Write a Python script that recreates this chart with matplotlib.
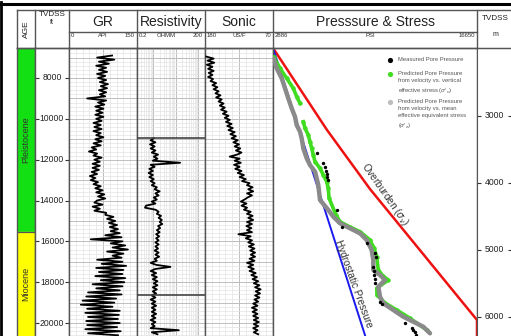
import numpy as np
import matplotlib
matplotlib.use("Agg")
import matplotlib.pyplot as plt
from matplotlib.lines import Line2D
from matplotlib.ticker import LogLocator, NullFormatter, FixedLocator
import matplotlib.transforms as mtransforms

plt.rcParams['font.family'] = ['Liberation Sans', 'DejaVu Sans']

# ---------------- data ----------------
depth_top_ft = 6531
depth_bot_ft = 20634
FT_PER_M = 3.28084
ft_ticks = [8000, 10000, 12000, 14000, 16000, 18000, 20000]
m_ticks = [3000, 4000, 5000, 6000]

age_names = ["Pleistocene", "Miocene"]
age_tops = [6531, 15540]
age_bases = [15540, 20634]
age_colors = ["#12e012", "#ffff00"]

# GR (API), sampled every 100 ft from 6900 ft
gr_start, gr_step = 6900, 100
gr_api = [95, 62, 100, 66, 88, 60, 82, 66, 84, 62, 80, 64, 82, 68, 86, 70, 84, 66, 82, 68,
          80, 40, 82, 64, 78, 58, 76, 60, 74, 58, 76, 60, 72, 54, 70, 56, 72, 54, 70, 60,
          76, 58, 72, 54, 70, 50, 60, 44, 62, 54, 72, 56, 68, 52, 68, 52, 66, 50, 62, 46,
          58, 48, 64, 54, 70, 58, 74, 60, 78, 64, 80, 62, 56, 74, 52, 68, 56, 82, 80, 98,
          84, 102, 88, 106, 90, 108, 92, 112, 80, 116, 48, 118, 92, 124, 96, 130, 84, 120, 96, 116,
          62, 118, 72, 126, 60, 120, 66, 118, 58, 124, 70, 122, 52, 118, 60, 112, 42, 116, 38, 104,
          30, 100, 26, 96, 40, 112, 36, 110, 42, 108, 38, 112, 40, 106, 36, 114, 42, 108]

# Resistivity (ohm.m), every 100 ft from 10950 ft
res_start, res_step = 10950, 100
res_ohmm = [1.1, 0.8, 1.3, 0.75, 1.2, 0.8, 1.3, 0.9, 1.7, 1.1, 1.6, 1.0, 16.0, 0.8, 1.2, 0.7, 1.0, 0.65, 1.0, 0.7,
            1.1, 0.8, 1.2, 0.9, 1.5, 1.2, 2.0, 1.3, 1.8, 1.1, 1.5, 0.9, 1.3, 0.5, 0.45, 1.3, 1.8, 1.5, 2.3, 1.8,
            2.5, 2.0, 2.6, 1.7, 2.1, 1.5, 2.0, 1.4, 1.9, 1.4, 1.8, 1.3, 1.8, 1.3, 1.7, 1.2, 1.8, 1.3, 1.9, 1.2,
            1.5, 0.8, 1.4, 6.0, 1.3, 0.8, 1.4, 0.9, 1.5, 1.0, 1.6, 1.1, 1.6, 1.0, 1.5, 1.0, 1.4, 0.9, 1.3, 0.8,
            1.3, 0.9, 1.4, 0.9, 1.3, 0.9, 1.4, 0.9, 1.3, 0.8, 1.3, 0.9, 1.2, 0.8, 14.0, 0.9, 1.6]
casing_ft = [10940, 18630]

# Sonic (us/ft), every 100 ft from 6950 ft
son_start, son_step = 6950, 100
sonic_usf = [178, 166, 176, 165, 177, 168, 175, 166, 174, 168, 175, 167, 171, 162, 168, 160, 166, 158, 163, 155,
             162, 153, 158, 150, 156, 148, 154, 145, 151, 142, 148, 140, 146, 137, 144, 135, 142, 132, 139, 130,
             137, 127, 134, 125, 132, 123, 130, 121, 128, 140, 124, 132, 122, 133, 124, 131, 121, 127, 117, 124,
             114, 120, 108, 112, 103, 110, 102, 112, 104, 111, 116, 122, 113, 121, 112, 117, 106, 112, 103, 110,
             102, 112, 104, 113, 105, 112, 104, 126, 106, 114, 104, 110, 101, 109, 100, 107, 99, 106, 99, 108,
             100, 112, 102, 110, 101, 108, 98, 105, 96, 103, 94, 101, 92, 99, 90, 98, 91, 99, 92, 100,
             94, 102, 95, 104, 96, 103, 95, 102, 94, 101, 93, 101, 94, 102, 95, 101, 94]

# Pressure & stress (psi vs ft)
psi_min, psi_max = 2886, 16650
overburden_ft = [6531, 10546, 13436, 19851, 20634]
overburden_psi = [2886, 6530, 9430, 16650, 16650]
hydro_ft = [6531, 20634]
hydro_psi = [2886, 9110]

gray_psi = [2906, 3136, 3473, 3696, 3918, 4148, 4370, 4485, 4708, 4822, 4930, 5160, 5382, 5720, 5834, 5942,
            6057, 6617, 6954, 7406, 8081, 8756, 9208, 9545, 9653, 9653, 10106, 10443, 9991, 10106, 10328,
            11003, 11677, 12352, 13027, 13479]
gray_ft = [7035, 7525, 8015, 8504, 8994, 9484, 9895, 10302, 10630, 10953, 11443, 11932, 12260, 12589, 12912, 13240,
           13974, 14464, 14792, 15115, 15360, 15605, 15933, 16423, 16913, 17402, 17647, 17892, 18220, 18710, 19033,
           19361, 19689, 19934, 20179, 20502]

green_psi = [2920, 3358, 3810, 4256, 4485, 4708, np.nan, 4930, 5045, 5268, 5382, 5497, 5605, 5720, 6057, 6280,
             6509, 6617, 6664, 7137, 7406, 8081, 8756, 9430, 9700, 9882, 9991, 10308, 10666, 9882, 9903,
             10443, 11232, 12129, 13256]
green_ft = [6972, 7525, 8015, 8504, 8916, 9239, np.nan, 10140, 10463, 10791, 11119, 11443, 11771, 12099, 12422, 12750,
            13078, 13401, 13876, 14709, 15037, 15297, 15527, 15933, 16325, 16751, 17402, 17696, 17892, 18298, 18626,
            19018, 19361, 19767, 20340]

meas_psi = [5834, 6280, 6361, 6429, 6496, 6563, 6617, 7184, 7521, 9228, 9768, 9835, 9653, 9687, 9721, 9748, 9768,
            10139, 10241, 11792, 12244, 12333, 12434, 12535]
meas_ft = [11687, 12177, 12358, 12530, 12701, 12848, 12995, 14464, 15282, 16095, 16585, 16751, 17241, 17451, 17647,
           17843, 18054, 18955, 19067, 19983, 20243, 20341, 20438, 20561]

# ---------------- layout ----------------
W, H = 511, 336
fig = plt.figure(figsize=(W / 100, H / 100), dpi=100)
fig.patch.set_facecolor("white")

SPINE = "#555555"
MINOR = "#e3e3e3"
MAJOR = "#bdbdbd"
LOG_LW = 1.3


def ax_px(x0, y0, x1, y1, **kw):
    return fig.add_axes([x0 / W, 1 - y1 / H, (x1 - x0) / W, (y1 - y0) / H], **kw)


def style_track(ax):
    ax.set_ylim(depth_bot_ft, depth_top_ft)
    for s in ("left", "right", "top"):
        ax.spines[s].set_color(SPINE)
        ax.spines[s].set_linewidth(1.0)
    ax.spines["bottom"].set_visible(False)
    ax.tick_params(which="both", length=0, labelleft=False, labelbottom=False)


def depth_grid(ax):
    ax.yaxis.set_major_locator(FixedLocator(np.arange(7000, 20700, 1000)))
    ax.yaxis.set_minor_locator(FixedLocator(np.arange(6600, 20700, 200)))
    ax.grid(which="minor", color=MINOR, lw=0.5, zorder=0)
    ax.grid(which="major", color=MAJOR, lw=0.7, zorder=0)
    ax.set_axisbelow(True)


Y0 = 48
# AGE column
ax_age = ax_px(17, Y0, 35, H)
style_track(ax_age)
ax_age.set_xlim(0, 1)
for name, t, b, c in zip(age_names, age_tops, age_bases, age_colors):
    ax_age.axhspan(t, b, color=c, zorder=1)
    ax_age.text(0.5, (t + b) / 2, name, rotation=90, ha="center", va="center",
                fontsize=6.5, color="#333333", zorder=3)
ax_age.axhline(age_bases[0], color=SPINE, lw=0.9, zorder=2)

# TVDSS ft column
ax_ft = ax_px(35, Y0, 69, H)
style_track(ax_ft)
ax_ft.set_xlim(0, 1)
ax_ft.set_yticks(ft_ticks)
ax_ft.tick_params(axis="y", which="major", length=3, width=0.8, color="#333333",
                  direction="in", left=True, right=True, labelleft=False)
tr = mtransforms.blended_transform_factory(ax_ft.transAxes, ax_ft.transData)
for d in ft_ticks:
    ax_ft.text(0.5, d, f"{d}", transform=tr, ha="center", va="center", fontsize=6.2, color="#222222")

# GR track
ax_gr = ax_px(69, Y0, 137, H)
style_track(ax_gr)
ax_gr.set_xlim(0, 150)
ax_gr.xaxis.set_major_locator(FixedLocator([0, 75, 150]))
ax_gr.xaxis.set_minor_locator(FixedLocator(np.arange(0, 151, 15)))
depth_grid(ax_gr)
gr_depth = gr_start + gr_step * np.arange(len(gr_api))
ax_gr.plot(gr_api, gr_depth, color="black", lw=LOG_LW, zorder=3)

# Resistivity track
ax_res = ax_px(137, Y0, 205, H)
style_track(ax_res)
ax_res.set_xscale("log")
ax_res.set_xlim(0.2, 200)
ax_res.xaxis.set_major_locator(LogLocator(base=10, subs=(1.0,)))
ax_res.xaxis.set_minor_locator(LogLocator(base=10, subs=np.arange(2, 10)))
ax_res.xaxis.set_minor_formatter(NullFormatter())
depth_grid(ax_res)
ax_res.tick_params(which="both", length=0, labelbottom=False)
res_depth = res_start + res_step * np.arange(len(res_ohmm))
ax_res.plot(res_ohmm, res_depth, color="black", lw=LOG_LW, zorder=3)
for c in casing_ft:
    ax_res.axhline(c, color="#444444", lw=1.2, zorder=4)

# Sonic track
ax_son = ax_px(205, Y0, 273, H)
style_track(ax_son)
ax_son.set_xlim(180, 70)
ax_son.xaxis.set_major_locator(FixedLocator([180, 125, 70]))
ax_son.xaxis.set_minor_locator(FixedLocator(np.arange(70, 181, 11)))
depth_grid(ax_son)
son_depth = son_start + son_step * np.arange(len(sonic_usf))
ax_son.plot(sonic_usf, son_depth, color="black", lw=LOG_LW, zorder=3)

# Pressure track
ax_p = ax_px(273, Y0, 477, H)
style_track(ax_p)
ax_p.set_xlim(psi_min, psi_max)
ax_p.plot(overburden_psi, overburden_ft, color="#ee1111", lw=1.8, zorder=2, clip_on=True)
ax_p.plot(hydro_psi, hydro_ft, color="#1a1aee", lw=1.4, zorder=2)
ax_p.plot(green_psi, green_ft, color="#3fdc1f", lw=2.6, marker="o", ms=3.2, mec="none", zorder=3)
ax_p.plot(gray_psi, gray_ft, color="#8a8a8a", lw=3.2, solid_capstyle="round", solid_joinstyle="round", zorder=4)
ax_p.scatter(meas_psi, meas_ft, s=6, color="black", zorder=5, linewidths=0)
ax_p.text(10443, 13729, r"Overburden ($\sigma_v$)", rotation=-55, ha="center", va="center",
          fontsize=7.2, color="#333333", rotation_mode="anchor")
ax_p.text(8304, 18088, "Hydrostatic Pressure", rotation=-70, ha="center", va="center",
          fontsize=7.2, color="#333333", rotation_mode="anchor")

# legend (manual)
leg_items = [
    ("black", "Measured Pore Pressure"),
    ("#3fdc1f", "Predicted Pore Pressure\nfrom velocity vs. vertical\neffective stress ($\\sigma'_v$)"),
    ("#bdbdbd", "Predicted Pore Pressure\nfrom velocity vs. mean\neffective equivalent stress\n($\\sigma'_e$)"),
]
leg_y = [60, 74, 102]
for (col, lab), yy in zip(leg_items, leg_y):
    ya = 1 - (yy - Y0) / (H - Y0)
    ax_p.scatter([(390 - 273) / 204], [ya], s=14, color=col, transform=ax_p.transAxes,
                 linewidths=0, zorder=6, clip_on=False)
    ax_p.text((398 - 273) / 204, ya + 3.2 / (H - Y0), lab, transform=ax_p.transAxes, ha="left", va="top",
              fontsize=4.2, color="#555555", linespacing=1.55)

# TVDSS m column
m_top = depth_top_ft / FT_PER_M
m_bot = depth_bot_ft / FT_PER_M
ax_m = ax_px(477, Y0, 512, H)
ax_m.set_ylim(m_bot, m_top)
ax_m.set_xlim(0, 1)
for s in ("left", "right", "top"):
    ax_m.spines[s].set_color(SPINE)
ax_m.spines["bottom"].set_visible(False)
ax_m.set_yticks(m_ticks)
ax_m.tick_params(axis="y", length=3, width=0.8, color="#333333", direction="in",
                 left=True, right=True, labelleft=False)
ax_m.tick_params(axis="x", length=0, labelbottom=False)
trm = mtransforms.blended_transform_factory(ax_m.transAxes, ax_m.transData)
for d in m_ticks:
    ax_m.text(0.5, d, f"{d}", transform=trm, ha="center", va="center", fontsize=6.2, color="#222222")

# ---------------- header overlay ----------------
ov = fig.add_axes([0, 0, 1, 1], zorder=10)
ov.set_xlim(0, W)
ov.set_ylim(H, 0)
ov.axis("off")
ov.patch.set_alpha(0)

ov.plot([17, 512], [10, 10], color=SPINE, lw=1.0)
ov.plot([17, 512], [48, 48], color=SPINE, lw=1.0)
ov.plot([69, 477], [32, 32], color=SPINE, lw=1.0)
for x in [17, 35, 69, 137, 205, 273, 477]:
    ov.plot([x, x], [10, 48], color=SPINE, lw=1.0)

ov.text(26, 29, "AGE", rotation=90, ha="center", va="center", fontsize=6, color="#222222")
ov.text(52, 15, "TVDSS", ha="center", va="center", fontsize=5.8, color="#222222")
ov.text(52, 22, "ft", ha="center", va="center", fontsize=5, color="#222222")
ov.text(495, 18, "TVDSS", ha="center", va="center", fontsize=5.8, color="#222222")
ov.text(495, 34, "m", ha="center", va="center", fontsize=5, color="#222222")

titles = [("GR", 103), ("Resistivity", 171), ("Sonic", 239), ("Presssure & Stress", 375)]
for t, x in titles:
    ov.text(x, 22, t, ha="center", va="center", fontsize=10, color="#222222")

scales = [
    (71, "0", "left"), (103, "API", "center"), (135, "150", "right"),
    (139, "0.2", "left"), (166, "OHMM", "center"), (203, "200", "right"),
    (207, "180", "left"), (239, "US/F", "center"), (271, "70", "right"),
    (275, "2886", "left"), (370, "PSI", "center"), (475, "16650", "right"),
]
for x, s, ha in scales:
    ov.text(x, 35.5, s, ha=ha, va="center", fontsize=4.3, color="#333333")

# black frame (slide border)
fig.add_artist(Line2D([0, 1], [1 - 3.5 / H, 1 - 3.5 / H], transform=fig.transFigure, color="black", lw=2.2))
fig.add_artist(Line2D([1.3 / W, 1.3 / W], [0, 1 - 2 / H], transform=fig.transFigure, color="black", lw=2.0))

fig.savefig("out.png", dpi=100, facecolor="white")
